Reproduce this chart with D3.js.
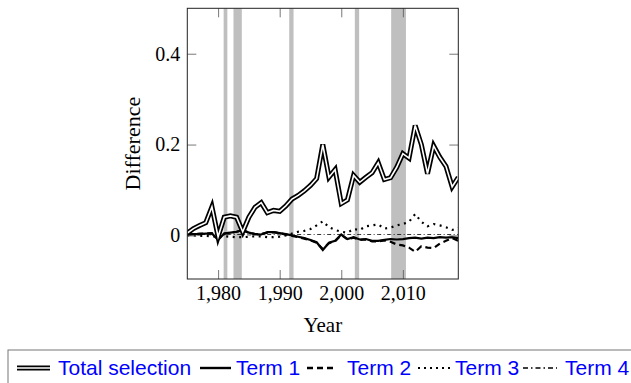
<!DOCTYPE html>
<html><head><meta charset="utf-8">
<script src="https://cdn.jsdelivr.net/npm/d3@7"></script>
<style>
html,body{margin:0;padding:0;background:#fff;}
svg{display:block;}
</style></head>
<body>
<script>
const years = [1975,1976,1977,1978,1979,1980,1981,1982,1983,1984,1985,1986,1987,1988,1989,1990,1991,1992,1993,1994,1995,1996,1997,1998,1999,2000,2001,2002,2003,2004,2005,2006,2007,2008,2009,2010,2011,2012,2013,2014,2015,2016,2017,2018,2019];
const totalSelection = [0.005,0.015,0.022,0.028,0.063,-0.003,0.04,0.043,0.04,0.008, 0.04,0.062,0.072,0.05,0.055,0.053,0.065,0.08,0.088,0.098, 0.11,0.125,0.2,0.128,0.145,0.07,0.078,0.132,0.117,0.128, 0.138,0.16,0.123,0.127,0.15,0.18,0.17,0.242,0.2,0.136, 0.197,0.172,0.152,0.107,0.128];
const term1 = [0.002,0.003,0.003,0.004,0.004,-0.01,0.004,0.006,0.008,0.012, 0.006,0.003,0.002,0.007,0.007,0.005,0.003,0.0,-0.003,-0.006, -0.01,-0.015,-0.032,-0.016,-0.012,0.002,-0.008,-0.004,-0.009,-0.008, -0.012,-0.012,-0.01,-0.008,-0.009,-0.008,-0.006,-0.005,-0.007,-0.005, -0.006,-0.004,-0.005,-0.004,-0.006];
const term2 = [0.002,0.003,0.004,0.004,0.005,-0.008,0.004,0.006,0.008,0.011, 0.006,0.003,0.003,0.006,0.007,0.005,0.002,-0.001,-0.004,-0.007, -0.011,-0.016,-0.03,-0.017,-0.013,0.001,-0.009,-0.005,-0.01,-0.009, -0.013,-0.013,-0.011,-0.014,-0.02,-0.022,-0.027,-0.036,-0.024,-0.027, -0.028,-0.018,-0.012,-0.006,-0.012];
const term3 = [0.0,0.0,-0.001,-0.001,-0.002,-0.003,-0.002,-0.003,-0.004,-0.004, -0.003,-0.002,-0.002,-0.004,-0.004,-0.003,0.0,0.004,0.008,0.01, 0.014,0.022,0.031,0.018,0.012,0.008,0.006,0.014,0.012,0.02, 0.022,0.024,0.015,0.017,0.022,0.025,0.03,0.047,0.03,0.02, 0.025,0.022,0.018,0.012,0.016];
const term4 = [0.001,0.001,0.001,0.002,0.001,0.0,0.001,0.002,0.002,0.002, 0.001,0.001,0.001,0.002,0.002,0.001,0.001,0.001,0.002,0.002, 0.002,0.002,0.002,0.002,0.002,0.002,0.002,0.002,0.002,0.002, 0.002,0.002,0.002,0.002,0.002,0.002,0.002,0.002,0.002,0.002, 0.002,0.002,0.002,0.002,0.002];
const recessionStart = [1980.9, 1982.5, 1991.55, 2002.2, 2008.1];
const recessionEnd   = [1981.5, 1983.85, 1992.25, 2002.9, 2010.5];
const xTicks = [1980, 1990, 2000, 2010];
const yTicks = [0, 0.2, 0.4];
const legendLabels = ["Total selection", "Term 1", "Term 2", "Term 3", "Term 4"];

const SERIF = "'Liberation Serif', 'Times New Roman', serif";
const SANS = "'Liberation Sans', Arial, sans-serif";
const W = 631, H = 383;
const L = 187.3, R = 458.3, T = 8.3, B = 279;
const svg = d3.select("body").append("svg").attr("width", W).attr("height", H);

const x = d3.scaleLinear().domain([1975, 2019]).range([L, R]);
const y = d3.scaleLinear().domain([-0.096, 0.5]).range([B, T]);

svg.append("defs").append("clipPath").attr("id","clip")
  .append("rect").attr("x", L).attr("y", T).attr("width", R-L).attr("height", B-T);

// recession bands
svg.append("g").selectAll("rect").data(recessionStart.map((s,i)=>[s, recessionEnd[i]]))
  .join("rect")
  .attr("x", d => x(d[0])).attr("width", d => x(d[1]) - x(d[0]))
  .attr("y", T).attr("height", B - T).attr("fill", "#bfbfbf");

const line = d3.line().x((d,i) => x(years[i])).y(d => y(d));
const plot = svg.append("g").attr("clip-path", "url(#clip)");

plot.append("path").attr("d", line(term4)).attr("fill","none").attr("stroke","#000")
  .attr("stroke-width", 0.8).attr("stroke-dasharray", "4,2.5,1,2.5");
plot.append("path").attr("d", line(term3)).attr("fill","none").attr("stroke","#000")
  .attr("stroke-width", 2.2).attr("stroke-dasharray", "2,4.5");
plot.append("path").attr("d", line(term2)).attr("fill","none").attr("stroke","#000")
  .attr("stroke-width", 2.2).attr("stroke-dasharray", "6,4");
plot.append("path").attr("d", line(term1)).attr("fill","none").attr("stroke","#000")
  .attr("stroke-width", 2.2);
plot.append("path").attr("d", line(totalSelection)).attr("fill","none").attr("stroke","#000")
  .attr("stroke-width", 5).attr("stroke-linejoin","miter");
plot.append("path").attr("d", line(totalSelection)).attr("fill","none").attr("stroke","#fff")
  .attr("stroke-width", 1.6).attr("stroke-linejoin","miter");

// axes (ticks inward on all sides)
const tickLen = 9;
const axB = svg.append("g").attr("transform", `translate(0,${B})`)
  .call(d3.axisBottom(x).tickValues(xTicks).tickSizeInner(-tickLen).tickSizeOuter(0).tickFormat(d3.format(",")));
const axT = svg.append("g").attr("transform", `translate(0,${T})`)
  .call(d3.axisTop(x).tickValues(xTicks).tickSizeInner(-tickLen).tickSizeOuter(0).tickFormat(""));
const axL = svg.append("g").attr("transform", `translate(${L},0)`)
  .call(d3.axisLeft(y).tickValues(yTicks).tickSizeInner(-tickLen).tickSizeOuter(0).tickFormat(d => d === 0 ? "0" : d3.format(".1f")(d)));
const axR = svg.append("g").attr("transform", `translate(${R},0)`)
  .call(d3.axisRight(y).tickValues(yTicks).tickSizeInner(-tickLen).tickSizeOuter(0).tickFormat(""));
[axB, axT, axL, axR].forEach(a => {
  a.attr("font-family", null).attr("font-size", null);
  a.select(".domain").remove();
  a.selectAll(".tick line").attr("stroke", "#555").attr("stroke-width", 0.8);
  a.selectAll("text").style("font-family", SERIF).style("font-size", "20px").attr("fill", "#000");
});
axB.selectAll("text").attr("dy", null).attr("y", 21);
axL.selectAll("text").attr("dy", "0.32em").attr("x", -7);

// frame
svg.append("rect").attr("x", L).attr("y", T).attr("width", R-L).attr("height", B-T)
  .attr("fill","none").attr("stroke","#222").attr("stroke-width", 1);

// axis labels
svg.append("text").attr("x", (L+R)/2).attr("y", 332).attr("text-anchor","middle")
  .style("font-family", SERIF).style("font-size", "21px").text("Year");
svg.append("text").attr("transform", `translate(140,${(T+B)/2}) rotate(-90)`).attr("text-anchor","middle")
  .style("font-family", SERIF).style("font-size", "22px").text("Difference");

// legend
const lg = svg.append("g");
lg.append("rect").attr("x", 8).attr("y", 350).attr("width", 640).attr("height", 50)
  .attr("fill","#fff").attr("stroke","#777").attr("stroke-width", 1);
const ly = 368;
const samples = [[17,50],[200,231],[307,336],[418,451],[523,557]];
const textX = [58, 236, 347, 455, 565];
const styles = [null, {w:2.4,d:null}, {w:2.4,d:"6,4"}, {w:2.2,d:"2,4"}, {w:1.6,d:"5,3,1.5,3"}];
samples.forEach((s,i) => {
  if (i === 0) {
    lg.append("line").attr("x1", s[0]).attr("x2", s[1]).attr("y1", ly).attr("y2", ly).attr("stroke","#000").attr("stroke-width", 5);
    lg.append("line").attr("x1", s[0]).attr("x2", s[1]).attr("y1", ly).attr("y2", ly).attr("stroke","#fff").attr("stroke-width", 1.6);
  } else {
    lg.append("line").attr("x1", s[0]).attr("x2", s[1]).attr("y1", ly).attr("y2", ly).attr("stroke","#000")
      .attr("stroke-width", styles[i].w).attr("stroke-dasharray", styles[i].d);
  }
  lg.append("text").attr("x", textX[i]).attr("y", 375).attr("fill","#0000ff")
    .style("font-family", SANS).style("font-size", "21px").text(legendLabels[i]);
});
</script>
</body></html>
